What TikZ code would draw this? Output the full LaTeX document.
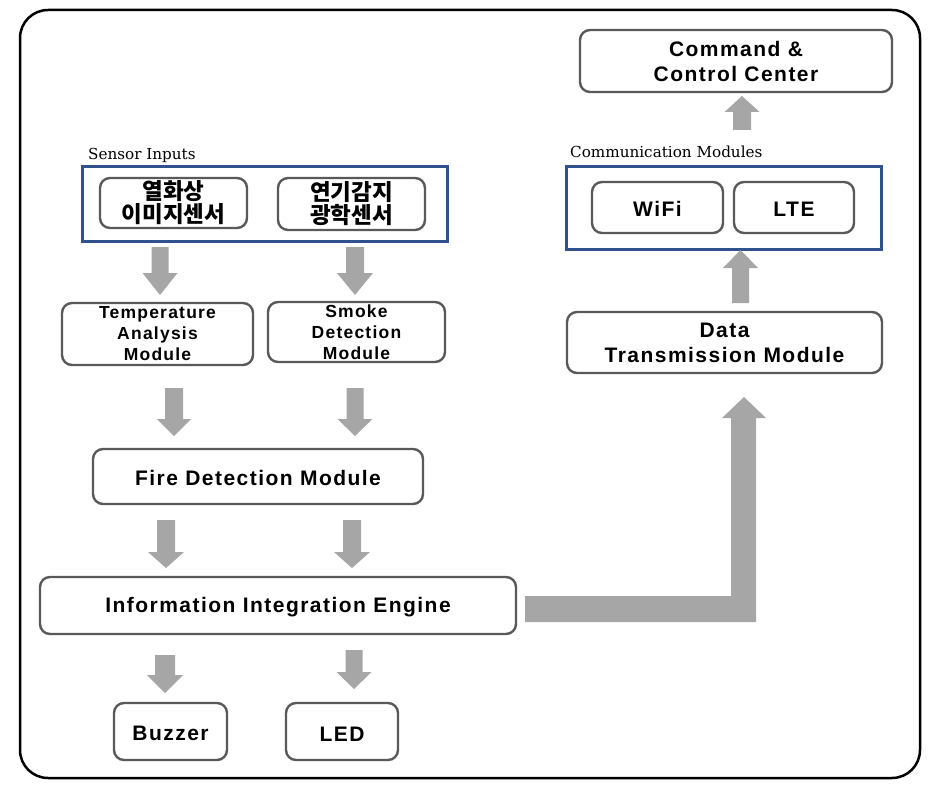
\documentclass[tikz,border=0pt]{standalone}
\usepackage{fontspec}
\newfontfamily\bx[LetterSpace=7]{Liberation Sans}
\newfontfamily\kr{Noto Sans CJK KR}
\newfontfamily\lab{DejaVu Serif}
\definecolor{boxgray}{HTML}{595959}
\definecolor{grpblue}{HTML}{2F528F}
\definecolor{arrowgray}{HTML}{A6A6A6}
\newcommand\vblk[6]{\fill[blk] (#1-#2,#4) -- (#1-#2,#5) -- (#1-#3,#5) -- (#1,#6) -- (#1+#3,#5) -- (#1+#2,#5) -- (#1+#2,#4) -- cycle;}
\begin{document}
\begin{tikzpicture}[x=1pt,y=-1pt,
  box/.style={draw=boxgray, line width=2.4pt, rounded corners=10pt, fill=white, inner sep=0pt, align=center,
    font=\bx\bfseries\fontsize{21}{25}\selectfont, execute at begin node={\rule{0pt}{19pt}}},
  smallbox/.style={box, font=\bx\bfseries\fontsize{17.5}{21}\selectfont, execute at begin node={\rule{0pt}{18pt}}},
  krbox/.style={box, font=\kr\bfseries\fontsize{22.5}{23}\selectfont, execute at begin node={\rule{0pt}{29pt}}},
  grp/.style={draw=grpblue, line width=3pt},
  blk/.style={fill=arrowgray},
  lbl/.style={anchor=base west, inner sep=0pt, font=\lab\fontsize{15.2}{18}\selectfont}]
\useasboundingbox (0,0) rectangle (944,794);
% outer frame
\draw[line width=2.5pt, rounded corners=28pt] (20,10) rectangle (920,778);

% right column
\node[box, minimum width=312pt, minimum height=62pt] (cmd) at (736,61) {Command \&\\Control Center};
\node[lbl] (commlbl) at (570,158) {Communication Modules};
\draw[grp] (566,167) rectangle (881,249);
\node[box, minimum width=131pt, minimum height=51pt] (wifi) at (657.5,207.5) {WiFi};
\node[box, minimum width=120pt, minimum height=51pt] (lte) at (794,207.5) {LTE};
\node[box, minimum width=315pt, minimum height=61pt] (data) at (724.5,342.5) {Data\\Transmission Module};

% left column
\node[lbl] (senslbl) at (88,160) {Sensor Inputs};
\draw[grp] (82,167) rectangle (447,242);
\node[krbox, minimum width=147pt, minimum height=50pt] (thermal) at (173.5,203) {열화상\\이미지센서};
\node[krbox, minimum width=147pt, minimum height=52pt] (smokesens) at (351.5,204) {연기감지\\광학센서};
\node[smallbox, minimum width=191pt, minimum height=62pt] (temp) at (157.5,334) {Temperature\\Analysis\\Module};
\node[smallbox, minimum width=177pt, minimum height=60pt] (smokemod) at (356.5,332) {Smoke\\Detection\\Module};
\node[box, minimum width=330pt, minimum height=55pt] (fire) at (258,476.5) {Fire Detection Module};
\node[box, minimum width=476pt, minimum height=57pt] (info) at (278,605.5) {Information Integration Engine};
\node[box, minimum width=113pt, minimum height=57pt] (buzzer) at (170.5,731.5) {Buzzer};
\node[box, minimum width=112pt, minimum height=57pt] (led) at (342,731.5) {LED};

% block arrows
\vblk{160}{8.5}{17.5}{247}{273}{295}
\vblk{355}{9}{18}{247}{273}{295}
\vblk{174}{9}{17}{388}{419}{436}
\vblk{355}{8.5}{17.5}{388}{419}{436}
\vblk{166}{9}{18}{520}{552}{568}
\vblk{352}{9}{18}{520}{552}{568}
\vblk{165}{10}{18}{655}{675}{693}
\vblk{354}{8.5}{17.5}{650}{672}{689}
\vblk{740.5}{8.5}{17.5}{303}{268}{250}
\vblk{742}{9}{17.5}{130}{112}{96}
% L-shaped arrow from info engine to data module
\fill[blk] (525,596) -- (731,596) -- (731,418) -- (722,418) -- (744,397) -- (766,418) -- (756,418) -- (756,622) -- (525,622) -- cycle;
\end{tikzpicture}
\end{document}
